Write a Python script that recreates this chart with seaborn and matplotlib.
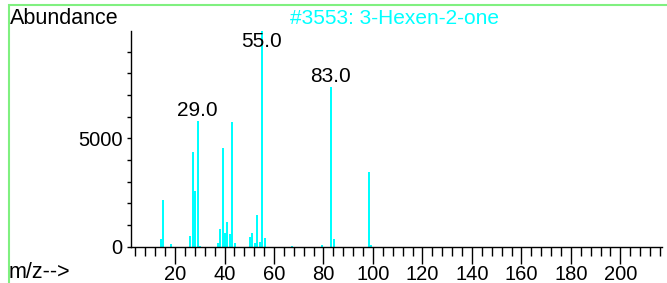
import numpy as np
import pandas as pd
import matplotlib
matplotlib.use("Agg")
import matplotlib.pyplot as plt
from matplotlib.ticker import MultipleLocator, FixedLocator
from matplotlib.patches import Rectangle
import seaborn as sns

# mass spectrum of 3-Hexen-2-one
mz = [14, 15, 18, 26, 27, 28, 29, 30, 37, 38, 39, 40, 41, 42, 43, 44,
      50, 51, 52, 53, 54, 55, 56, 67, 79, 83, 84, 98, 99]
abundance = [355, 2160, 125, 495, 4360, 2590, 5800, 50, 180, 800, 4570, 620,
             1130, 580, 5770, 160, 435, 620, 160, 1460, 200, 9960, 390, 40,
             100, 7390, 350, 3460, 100]
labelled = [29, 55, 83]
title = "#3553: 3-Hexen-2-one"
cyan = "#00ffff"

df = pd.DataFrame({"mz": mz, "abundance": abundance})

sns.set_style("ticks")
plt.rcParams["font.family"] = ["Liberation Sans", "DejaVu Sans"]
plt.rcParams["text.color"] = "black"
plt.rcParams["xtick.labelcolor"] = "black"
plt.rcParams["ytick.labelcolor"] = "black"

fig = plt.figure(figsize=(6.67, 2.83), dpi=100)
ax = fig.add_axes([0.1964, 0.1283, 0.796, 0.7622])

sns.barplot(data=df, x="mz", y="abundance", native_scale=True, color=cyan,
            width=0.4, linewidth=0.7, edgecolor=cyan, saturation=1,
            antialiased=False, ax=ax)

ax.set_xlim(2.2, 216.8)
ax.set_ylim(0, 9960)
ax.xaxis.set_major_locator(FixedLocator(np.arange(20, 201, 20)))
ax.xaxis.set_minor_locator(MultipleLocator(4))
ax.yaxis.set_major_locator(FixedLocator([0, 5000]))
ax.yaxis.set_minor_locator(MultipleLocator(1000))
ax.set_xticklabels([str(v) for v in range(20, 201, 20)])
ax.set_yticklabels(["0", "5000"])
ax.tick_params(axis="x", which="major", length=12, width=1, labelsize=14.5, pad=1,
               color="black", labelcolor="black")
ax.tick_params(axis="x", which="minor", length=6.5, width=1, color="black")
ax.tick_params(axis="y", which="major", length=3, width=1, labelsize=14.5, pad=3,
               color="black", labelcolor="black")
ax.tick_params(axis="y", which="minor", length=3, width=1, color="black")
ax.set_xlabel("")
ax.set_ylabel("")
sns.despine(ax=ax)
for s in ["left", "bottom"]:
    ax.spines[s].set_color("black")
    ax.spines[s].set_linewidth(1)

# peak labels sit just above the peak, kept below the top of the axis
for m in labelled:
    v = df.loc[df.mz == m, "abundance"].iloc[0]
    ax.annotate(f"{m:.1f}", (m, min(v, 9000)), xytext=(0, 3.6), textcoords="offset points",
                ha="center", va="baseline", fontsize=15, color="black")

fig.text(10 / 667, 1 - 18 / 283, "Abundance", fontsize=15.5, ha="left", va="center")
fig.text(395 / 667, 1 - 18 / 283, title, fontsize=15, ha="center", va="center", color=cyan)
fig.text(9 / 667, 1 - 273 / 283, "m/z-->", fontsize=15.5, ha="left", va="center")

fig.patches.append(Rectangle((9 / 667, -0.1), 1.2, 1.1 - 5 / 283,
                             transform=fig.transFigure, fill=False,
                             edgecolor="#80f080", linewidth=1.5))

fig.savefig("out.png", dpi=100)
